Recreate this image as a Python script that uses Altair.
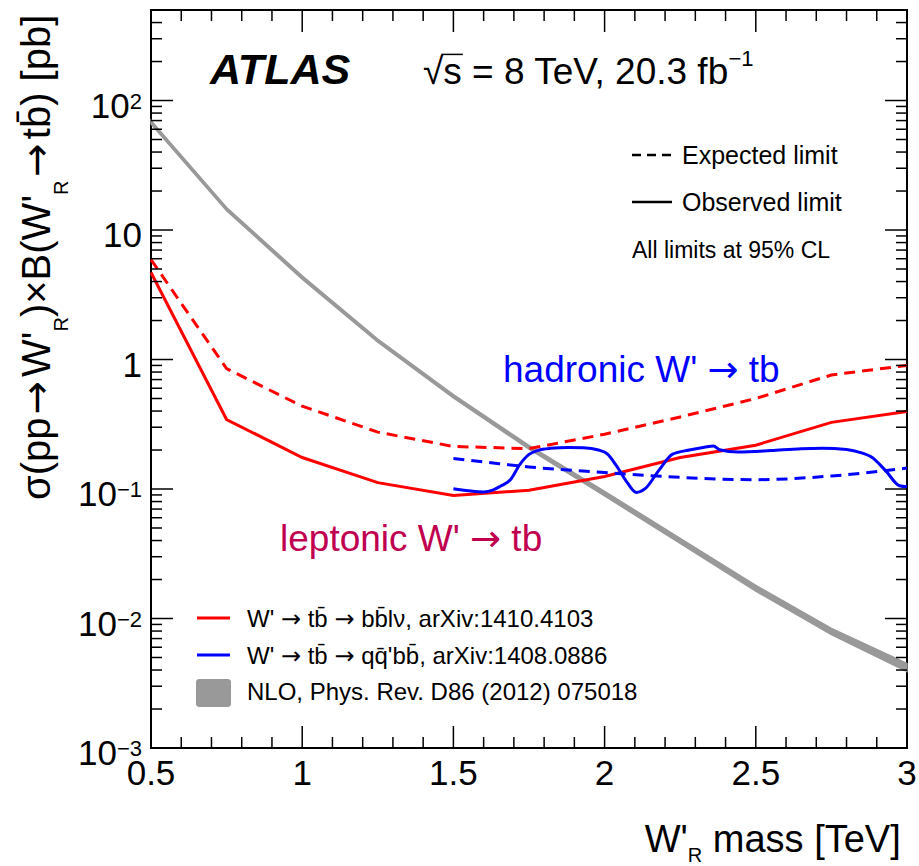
import altair as alt
import pandas as pd

# ---------------- data ----------------
mass_lep = [0.5, 0.75, 1.0, 1.25, 1.5, 1.75, 2.0, 2.25, 2.5, 2.75, 3.0]
lep_obs = [4.7, 0.344, 0.175, 0.112, 0.089, 0.098, 0.125, 0.175, 0.218, 0.327, 0.397]
lep_exp = [5.9, 0.85, 0.436, 0.275, 0.213, 0.205, 0.265, 0.36, 0.50, 0.76, 0.90]

mass_had_exp = [1.5, 1.6, 1.75, 2.0, 2.25, 2.5, 2.75, 3.0]
had_exp = [0.172, 0.162, 0.148, 0.134, 0.123, 0.118, 0.126, 0.145]

mass_had_obs = [1.50, 1.55, 1.60, 1.63, 1.655, 1.69, 1.72, 1.75, 1.78, 1.82, 1.88, 1.93,
                1.98, 2.01, 2.04, 2.075, 2.105, 2.135, 2.18, 2.225, 2.28, 2.33, 2.36,
                2.38, 2.44, 2.55, 2.65, 2.72, 2.80, 2.85, 2.88, 2.93, 2.975, 3.00]
had_obs = [0.1005, 0.097, 0.095, 0.098, 0.105, 0.119, 0.155, 0.185, 0.199, 0.206, 0.209, 0.208,
           0.200, 0.186, 0.150, 0.112, 0.094, 0.101, 0.140, 0.186, 0.200, 0.210, 0.215,
           0.201, 0.193, 0.198, 0.205, 0.206, 0.202, 0.190, 0.178, 0.138, 0.106, 0.104]

mass_nlo = [0.5, 0.75, 1.0, 1.25, 1.5, 1.75, 2.0, 2.25, 2.5, 2.75, 3.0]
nlo_lo = [66.0, 14.1, 4.17, 1.36, 0.505, 0.203, 0.0885, 0.0380, 0.0163, 0.0075, 0.0039]
nlo_hi = [70.0, 14.9, 4.43, 1.44, 0.535, 0.217, 0.0960, 0.0415, 0.0180, 0.0084, 0.0045]

x_major = [0.5, 1.0, 1.5, 2.0, 2.5, 3.0]
x_labels = ["0.5", "1", "1.5", "2", "2.5", "3"]
y_major = [0.001, 0.01, 0.1, 1.0, 10.0, 100.0]
y_base = ["10", "10", "10", "1", "10", "10"]
y_exp = ["\u22123", "\u22122", "\u22121", "", "", "2"]

x_minor = [round(0.5 + 0.1 * i, 2) for i in range(26) if i % 5 != 0]
y_minor = [k * 10.0 ** d for d in range(-3, 2) for k in range(2, 10)] + [200.0, 300.0, 400.0]

# ---------------- layout helpers ----------------
W, H = 756, 738
LS = "Liberation Sans"
DV = "DejaVu Sans"
CW = {' ': 278, "'": 191, '(': 333, ')': 333, ',': 278, '-': 333, '.': 278, ':': 278,
      '=': 584, '[': 278, ']': 278, '%': 889, 'A': 667, 'B': 667, 'C': 722, 'D': 722,
      'E': 667, 'L': 556, 'N': 722, 'O': 778, 'P': 667, 'R': 722, 'S': 667, 'T': 611,
      'V': 667, 'W': 944, 'X': 667, 'a': 556, 'b': 556, 'c': 500, 'd': 556, 'e': 556,
      'f': 278, 'h': 556, 'i': 222, 'l': 222, 'm': 833, 'n': 556, 'o': 556, 'p': 556,
      'q': 556, 'r': 333, 's': 500, 't': 278, 'v': 500, 'x': 500, 'y': 500,
      '\u2192': 1000, '\u00d7': 584, '\u03c3': 600, '\u03bd': 520, '\u221a': 549,
      '\u2212': 584, '\u0304': 0}
DVW = {'\u2192': 838, ' ': 318}


def tw(s, size, font=LS):
    tab = DVW if font == DV else CW
    return sum(tab.get(c, 556) for c in s) / 1000.0 * size


dummy = pd.DataFrame({"d": [0]})
xs = alt.Scale(domain=[0.5, 3.0])
ys = alt.Scale(type="log", domain=[0.001, 500])


def text(t, x, y, size, color="black", align="left", angle=0, weight="normal",
         style="normal", font=LS):
    return alt.Chart(dummy).mark_text(
        text=t, font=font, fontSize=size, color=color, align=align, baseline="alphabetic",
        angle=angle, fontWeight=weight, fontStyle=style
    ).encode(x=alt.value(x), y=alt.value(y))


ARROW = "\u2192"


def rich(pieces, x, y, angle=0, align="left", color="black"):
    """pieces: (string, size, font, shift) laid out one after another;
    leading/trailing blanks become cursor advances."""
    out = []
    tot = sum(tw(s, sz, f) for s, sz, f, _ in pieces)
    cur = (x - tot if align == "right" else x) if angle == 0 else \
          (y + tot if align == "right" else y)
    for s, sz, f, sh in pieces:
        lead = len(s) - len(s.lstrip(' '))
        body = s.strip(' ')
        off = tw(' ' * lead, sz, f)
        if body:
            if angle == 0:
                out.append(text(body, cur + off, y + sh, sz, color=color, font=f))
            else:
                out.append(text(body, x + sh, cur - off, sz, color=color, font=f, angle=angle))
        w = tw(s, sz, f)
        cur = cur + w if angle == 0 else cur - w
    return out


def split_arrows(s, size):
    parts = s.split(ARROW)
    res = []
    for i, p in enumerate(parts):
        if p:
            res.append((p, size, LS, 0))
        if i < len(parts) - 1:
            res.append((ARROW, size, DV, 0))
    return res


def hrule(x1, x2, y, color, width, dash=None):
    kw = dict(color=color, strokeWidth=width)
    if dash:
        kw["strokeDash"] = dash
    return alt.Chart(dummy).mark_rule(**kw).encode(
        x=alt.value(x1), x2=alt.value(x2), y=alt.value(y))


layers = []

# NLO band
df_nlo = pd.DataFrame({"m": mass_nlo, "lo": nlo_lo, "hi": nlo_hi})
layers.append(alt.Chart(df_nlo).mark_area(color="#999999", opacity=1, stroke="#999999",
                                          strokeWidth=1.5).encode(
    x=alt.X("m:Q", scale=xs, axis=None),
    y=alt.Y("lo:Q", scale=ys, axis=None), y2="hi:Q"))

# limit curves
df_lep = pd.DataFrame({"m": mass_lep, "obs": lep_obs, "exp": lep_exp})
df_hexp = pd.DataFrame({"m": mass_had_exp, "exp": had_exp})
df_hobs = pd.DataFrame({"m": mass_had_obs, "obs": had_obs})

layers.append(alt.Chart(df_lep).mark_line(color="#ff0000", strokeWidth=3, strokeDash=[11, 7]).encode(
    x=alt.X("m:Q", scale=xs, axis=None), y=alt.Y("exp:Q", scale=ys, axis=None)))
layers.append(alt.Chart(df_lep).mark_line(color="#ff0000", strokeWidth=3).encode(
    x=alt.X("m:Q", scale=xs, axis=None), y=alt.Y("obs:Q", scale=ys, axis=None)))
layers.append(alt.Chart(df_hexp).mark_line(color="#0000ff", strokeWidth=3, strokeDash=[11, 7],
                                           interpolate="monotone").encode(
    x=alt.X("m:Q", scale=xs, axis=None), y=alt.Y("exp:Q", scale=ys, axis=None)))
layers.append(alt.Chart(df_hobs).mark_line(color="#0000ff", strokeWidth=3, interpolate="monotone").encode(
    x=alt.X("m:Q", scale=xs, axis=None), y=alt.Y("obs:Q", scale=ys, axis=None)))

# ticks (inward, on all four sides)
MAJ, MIN = 22, 11
for vals, ln in ((x_major, MAJ), (x_minor, MIN)):
    d = pd.DataFrame({"t": vals})
    layers.append(alt.Chart(d).mark_rule(color="black", strokeWidth=1.5).encode(
        x=alt.X("t:Q", scale=xs, axis=None), y=alt.value(H), y2=alt.value(H - ln)))
    layers.append(alt.Chart(d).mark_rule(color="black", strokeWidth=1.5).encode(
        x=alt.X("t:Q", scale=xs, axis=None), y=alt.value(0), y2=alt.value(ln)))
for vals, ln in ((y_major, MAJ), (y_minor, MIN)):
    d = pd.DataFrame({"t": vals})
    layers.append(alt.Chart(d).mark_rule(color="black", strokeWidth=1.5).encode(
        y=alt.Y("t:Q", scale=ys, axis=None), x=alt.value(0), x2=alt.value(ln)))
    layers.append(alt.Chart(d).mark_rule(color="black", strokeWidth=1.5).encode(
        y=alt.Y("t:Q", scale=ys, axis=None), x=alt.value(W), x2=alt.value(W - ln)))

# x tick labels
dfx = pd.DataFrame({"t": x_major, "lab": x_labels})
layers.append(alt.Chart(dfx).mark_text(font=LS, fontSize=35, align="center", baseline="alphabetic").encode(
    x=alt.X("t:Q", scale=xs, axis=None), y=alt.value(775), text="lab:N"))

# y tick labels (base + exponent)
for v, b, e in zip(y_major, y_base, y_exp):
    d = pd.DataFrame({"t": [v]})
    bx = -9 - (tw(e, 22) if e else 0)
    layers.append(alt.Chart(d).mark_text(text=b, font=LS, fontSize=35, align="right",
                                         baseline="alphabetic", dy=17).encode(
        y=alt.Y("t:Q", scale=ys, axis=None), x=alt.value(bx)))
    if e:
        layers.append(alt.Chart(d).mark_text(text=e, font=LS, fontSize=22, align="right",
                                             baseline="alphabetic", dy=8).encode(
            y=alt.Y("t:Q", scale=ys, axis=None), x=alt.value(-9)))

# x axis title: W'_R mass [TeV]
FX, FS = 38, 20
layers += rich([("W'", FX, LS, 0), ("R", FS, LS, 10), (" mass [TeV]", FX, LS, 0)],
               754, 842, align="right")

# y axis title (rotated)
FY = 40
GAP = " "
ytitle = [("\u03c3(pp", FY, LS, 0), (GAP, 14, LS, 0), (ARROW, FY, DV, 0), (GAP, 14, LS, 0),
          ("W'", FY, LS, 0), ("R", FS, LS, 18), (")\u00d7B(W'", FY, LS, 0), ("R", FS, LS, 18),
          (GAP, 14, LS, 0), (ARROW, FY, DV, 0), (GAP, 14, LS, 0), ("tb\u0304) [pb]", FY, LS, 0)]
layers += rich(ytitle, -101, 490, angle=270)

# ATLAS label and energy/lumi
layers.append(text("ATLAS", 59, 74, 43, weight="bold", style="italic"))
FE = 37
e_main = "\u221as = 8 TeV, 20.3 fb"
layers.append(text(e_main, 272, 74, FE))
layers.append(text("\u22121", 272 + tw(e_main, FE) - 8, 56, 22))
sq = 272 + tw("\u221a", FE)
layers.append(hrule(sq - 2, sq + tw("s", FE) + 1, 74 - 0.80 * FE, "black", 1.5))

# top-right legend
layers.append(hrule(481, 521, 145, "black", 2.5, dash=[9, 6]))
layers.append(text("Expected limit", 531, 154, 25))
layers.append(hrule(481, 521, 192, "black", 2.5))
layers.append(text("Observed limit", 531, 201, 25))
layers.append(text("All limits at 95% CL", 481, 248, 23))

# channel labels
layers += rich(split_arrows("hadronic W' \u2192 tb", 37), 352, 372, color="#0000ff")
layers += rich(split_arrows("leptonic W' \u2192 tb", 37), 129, 541, color="#c0004f")

# lower-left legend
FL = 24
layers.append(hrule(46, 79, 608, "#ff0000", 3))
layers += rich(split_arrows("W' \u2192 tb\u0304 \u2192 bb\u0304l\u03bd, arXiv:1410.4103", FL), 96, 617)
layers.append(hrule(46, 79, 645, "#0000ff", 3))
layers += rich(split_arrows("W' \u2192 tb\u0304 \u2192 qq\u0304'bb\u0304, arXiv:1408.0886", FL), 96, 654)
layers.append(alt.Chart(dummy).mark_rect(color="#999999", cornerRadius=3).encode(
    x=alt.value(45), x2=alt.value(80), y=alt.value(669), y2=alt.value(697)))
layers.append(text("NLO, Phys. Rev. D86 (2012) 075018", 96, 690, FL))

chart = alt.layer(*layers).properties(
    width=W, height=H,
    padding={"left": 151, "top": 10, "right": 12, "bottom": 118},
    autosize=alt.AutoSizeParams(type="none"),
    background="white",
).configure_view(stroke="black", strokeWidth=2)

chart.save("out.html", embed_options={"renderer": "svg", "actions": False})
